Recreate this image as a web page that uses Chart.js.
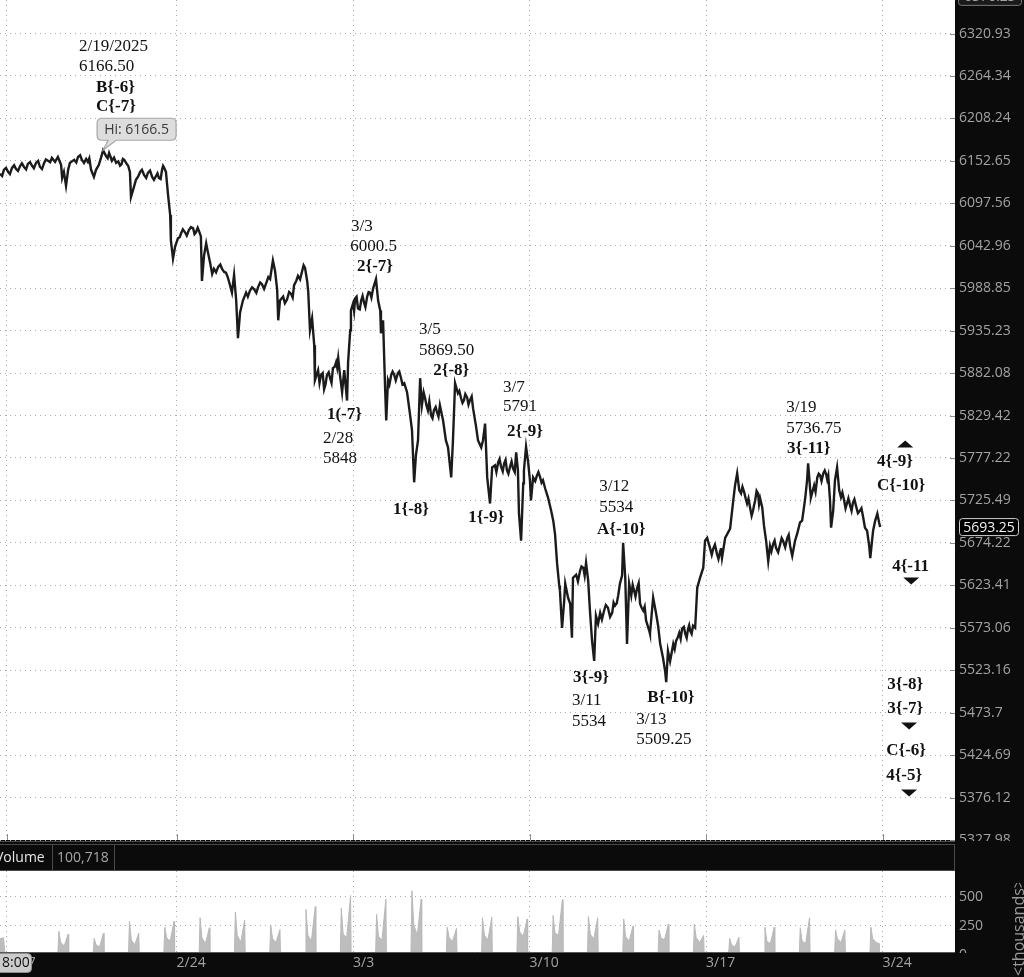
<!DOCTYPE html>
<html><head><meta charset="utf-8">
<script src="https://cdn.jsdelivr.net/npm/chart.js@4.4.1/dist/chart.umd.min.js"></script>
<style>
html,body{margin:0;padding:0;background:#0b0b0b;width:1024px;height:977px;overflow:hidden}
#p{position:absolute;left:0;top:0}
#v{position:absolute;left:0;top:841px}
</style></head><body>
<canvas id="p" width="1024" height="841"></canvas>
<canvas id="v" width="1024" height="136"></canvas>
<script>
// ---- data: x = trading-day index (0 = 2/17 session), price in index points ----
// main swing path
const priceTimes = [0.00,0.11,0.23,0.34,0.45,0.57,0.68,0.79,0.91,1.02,1.13,1.25,1.36,1.47,1.56,1.64,1.73,1.76,1.81,1.87,1.93,1.98,2.10,2.21,2.32,2.44,2.49,2.58,2.66,2.72,2.80,2.86,2.92,3.00,3.09,3.17,3.29,3.40,3.48,3.57,3.63,3.68,3.71,3.77,3.85,3.97,4.08,4.19,4.31,4.42,4.50,4.59,4.65,4.70,4.76,4.82,4.84,4.90,4.96,5.04,5.13,5.24,5.35,5.47,5.55,5.64,5.69,5.72,5.78,5.84,5.89,5.95,6.01,6.06,6.18,6.29,6.40,6.49,6.57,6.63,6.69,6.74,6.80,6.88,6.97,7.08,7.20,7.31,7.42,7.54,7.65,7.73,7.79,7.85,7.88,7.93,8.02,8.13,8.24,8.33,8.44,8.56,8.64,8.70,8.73,8.78,8.84,8.90,8.92,9.01,9.09,9.18,9.26,9.35,9.43,9.52,9.58,9.63,9.69,9.75,9.83,9.86,9.92,9.94,10.00,10.06,10.14,10.23,10.31,10.40,10.48,10.57,10.65,10.71,10.77,10.79,10.85,10.91,10.94,10.99,11.08,11.16,11.27,11.36,11.45,11.53,11.61,11.67,11.73,11.78,11.84,11.90,11.95,12.04,12.12,12.21,12.29,12.38,12.46,12.55,12.63,12.69,12.78,12.83,12.89,12.97,13.06,13.14,13.23,13.31,13.40,13.48,13.54,13.63,13.68,13.74,13.80,13.88,13.94,14.02,14.11,14.19,14.28,14.36,14.45,14.53,14.62,14.67,14.70,14.76,14.82,14.84,14.90,14.96,15.01,15.04,15.10,15.21,15.30,15.38,15.44,15.52,15.61,15.67,15.72,15.78,15.84,15.86,15.92,15.98,16.01,16.09,16.15,16.20,16.23,16.32,16.43,16.52,16.60,16.66,16.71,16.77,16.83,16.88,16.94,17.00,17.11,17.22,17.34,17.42,17.51,17.56,17.62,17.65,17.71,17.76,17.82,17.88,17.96,18.05,18.13,18.22,18.30,18.39,18.41,18.50,18.58,18.64,18.70,18.78,18.84,18.87,18.92,18.98,19.07,19.15,19.24,19.32,19.41,19.49,19.55,19.63,19.69,19.75,19.83,19.92,19.97,20.03,20.11,20.20,20.31,20.40,20.45,20.54,20.62,20.68,20.77,20.82,20.88,20.94,20.99,21.08,21.16,21.25,21.33,21.39,21.47,21.53,21.59,21.64,21.70,21.76,21.81,21.90,21.98,22.10,22.18,22.30,22.38,22.44,22.52,22.58,22.66,22.72,22.78,22.81,22.86,22.89,22.95,22.97,23.06,23.15,23.23,23.32,23.40,23.46,23.51,23.54,23.60,23.65,23.71,23.77,23.82,23.91,23.99,24.08,24.16,24.25,24.36,24.45,24.50,24.56,24.62,24.65,24.70,24.73,24.79,24.85,24.90,24.93];
const prices = [6135.75,6141,6138.25,6143.5,6142.25,6146,6144.75,6148.75,6146.25,6150,6145,6150,6152.75,6156.5,6151.25,6157.75,6147.5,6130.5,6138.25,6120.25,6141,6150,6154,6157.75,6154,6155.25,6151.25,6141,6131.75,6141,6147.5,6156.5,6166.5,6159.25,6163,6152.75,6150,6146.25,6155.25,6150,6146.25,6138.25,6105.75,6115,6128,6138.25,6134.5,6137,6131.75,6133,6130.5,6141,6143.5,6138.25,6108.5,6082.5,6050,6026.5,6042,6052.5,6059,6060.25,6063,6065.5,6060.25,6061.5,6055,5998,6030.5,6046,6034.5,6021.5,6007,6013.5,6016,6013.5,6008.5,5996.75,5983.25,6005.75,5973.25,5925.75,5958.25,5973.25,5983.25,5985.75,5987.5,5990.25,5994,5995.25,6000.5,6024,6011,5987.5,5948.25,5973.25,5978.25,5974.5,5982,5992.75,6004.5,6011,6014.75,5998,5985,5935.75,5950.75,5917,5873.25,5885.75,5879.5,5862,5879.5,5875.75,5888.25,5895.75,5900.75,5879.5,5858.25,5885.75,5848,5895.75,5935.75,5960.75,5969.5,5975.75,5963.25,5973.25,5970.75,5978.25,5983.25,5988.75,6000.5,5973.25,5960.75,5932,5948.25,5860.75,5823.25,5873.25,5879.5,5880.75,5882,5875.75,5869.5,5858.25,5832,5811,5747.5,5780.5,5798.75,5875.75,5842,5850.75,5835.75,5829.5,5835.75,5833.25,5842,5823.25,5798.75,5790.25,5753.5,5798.75,5869.5,5857,5850.75,5848.25,5852,5848.25,5838.25,5817,5798.75,5790.25,5798.75,5819.5,5753.5,5721.75,5765.75,5768.25,5771.75,5767,5770.75,5762,5767,5764.5,5784,5762,5709.5,5676.75,5746.25,5762,5791,5771.75,5750,5725.5,5753.5,5756,5753.5,5750,5740.25,5729.25,5713.25,5701,5685.25,5649.25,5623,5617,5573,5605,5625.5,5608.75,5601.5,5561.25,5632.5,5636,5640.75,5644.5,5650.25,5629,5593.25,5557.5,5534,5587.25,5577.75,5590.75,5593.25,5596.75,5590.75,5599.25,5611.25,5625.5,5635,5674.25,5632.5,5554,5625.5,5611.25,5617.25,5620.75,5601.5,5593.25,5581.5,5569.5,5566,5608.75,5590.75,5575.5,5554,5537.5,5521.75,5509.25,5545.75,5533.75,5554,5557.5,5567,5572,5566,5572,5569.5,5575.5,5573,5620.75,5632.5,5644.5,5676.75,5680.25,5668.25,5667,5660.75,5664.5,5656,5680.25,5686.5,5691.25,5725.5,5743.75,5758.5,5737.75,5734,5735.25,5721.75,5715.75,5713.25,5725.5,5734,5728,5717,5695,5676.75,5652.25,5670.5,5673,5668.25,5673,5676.75,5680.25,5670.5,5658.5,5676.75,5685.25,5698.75,5701,5719.5,5729.25,5750,5770.75,5737.75,5729.25,5743.75,5753.5,5756,5758.5,5757.25,5756,5725.5,5692.5,5713.25,5750,5765.75,5737.75,5729.25,5725.5,5721.75,5719.25,5723,5718.25,5713.25,5704.75,5692.5,5688.75,5670.5,5656,5676.75,5688.75,5701,5709.5,5698.75,5693.25];
// intraday wiggles between the swing points
const wiggleTimes = [0.06,0.17,0.28,0.40,0.51,0.62,0.74,0.85,0.96,1.08,1.19,1.30,1.42,2.16,2.27,2.38,2.53,3.05,3.13,3.23,3.35,3.44,3.52,3.91,4.02,4.14,4.25,4.36,4.46,4.55,4.62,5.09,5.18,5.29,5.41,5.51,5.60,6.12,6.24,6.35,6.45,7.02,7.14,7.26,7.37,7.48,7.60,8.07,8.19,8.29,8.39,8.50,8.60,9.05,9.14,9.22,9.31,9.39,9.48,9.55,10.03,10.10,10.19,10.27,10.35,10.44,10.52,11.03,11.12,11.21,11.31,11.40,12.00,12.08,12.16,12.25,12.34,12.42,13.01,13.10,13.18,13.27,13.36,14.06,14.15,14.24,14.32,14.40,14.49,14.58,15.16,15.25,15.34,16.37,16.47,16.56,17.05,17.16,17.28,17.38,17.47,17.92,18.00,18.09,18.17,18.26,19.11,19.20,19.28,19.37,19.45,19.52,19.59,20.07,20.16,20.25,20.35,20.42,21.03,21.12,21.20,21.29,21.36,21.43,21.50,21.85,21.94,22.04,22.14,22.24,22.34,23.10,23.19,23.27,23.36,23.43,23.86,23.95,24.03,24.12,24.20,24.30,24.40];
const wigglePrices = [6133,6143.5,6135.5,6147,6139.5,6149.5,6141.5,6151,6143,6152.5,6142,6154.5,6151,6150.5,6160,6150,6156,6156,6158,6157,6152,6148,6154,6132,6141,6130.5,6140,6128,6136.5,6129,6146,6054,6064,6056,6067,6058,6066,6009,6019,6009.5,6003,5978,5990,5983,5996,5988,6003,5970,5984,5977,5998,6000,6018,5870,5882,5868,5883,5870,5890,5889,5960,5978,5962,5979,5965,5984,5977,5868,5884,5873,5884,5868,5858,5842,5847,5826,5840,5828,5860,5845,5856,5843,5853,5760,5776,5761,5775,5758,5773,5760,5749,5760,5747,5628,5646,5635,5583,5600,5586,5603,5602,5624,5610,5626,5597,5598,5548,5562,5560,5574,5561,5576,5566,5674,5660,5672,5655,5668,5742,5728,5728,5707,5720,5737,5721,5664,5677,5663,5680,5669,5684,5736,5758,5749,5762,5751,5735,5716,5728,5713,5727,5710,5716];

const priceTicks = [5327.98,5376.12,5424.69,5473.7,5523.16,5573.06,5623.41,5674.22,5725.49,5777.22,5829.42,5882.08,5935.23,5988.85,6042.96,6097.56,6152.65,6208.24,6264.34,6320.93];
const priceAxisMin = 5327.98, priceAxisMax = 6366, axisTopLabel = '6370.23', axisTopValue = 6370.23;
const dayAxisMax = 27.05;
const weekTicks = [0.19,5,10,15,20,25];
const weekLabels = ['2/17','2/24','3/3','3/10','3/17','3/24'];

const volTimes = [0,0.1,0.14,
1.64,1.667,1.72,1.82,1.93,1.945, 2.64,2.667,2.72,2.82,2.93,2.945, 3.64,3.667,3.72,3.82,3.93,3.945, 4.64,4.667,4.72,4.82,4.93,4.945,
5.64,5.667,5.72,5.82,5.93,5.945, 6.64,6.667,6.72,6.82,6.93,6.945, 7.64,7.667,7.72,7.82,7.93,7.945, 8.64,8.667,8.72,8.82,8.93,8.945, 9.64,9.667,9.72,9.82,9.93,9.945,
10.64,10.667,10.72,10.82,10.93,10.945, 11.64,11.667,11.72,11.82,11.93,11.945, 12.64,12.667,12.72,12.82,12.93,12.945, 13.64,13.667,13.72,13.82,13.93,13.945, 14.64,14.667,14.72,14.82,14.93,14.945,
15.64,15.667,15.72,15.82,15.93,15.945, 16.64,16.667,16.72,16.82,16.93,16.945, 17.64,17.667,17.72,17.82,17.93,17.945, 18.64,18.667,18.72,18.82,18.93,18.945, 19.64,19.667,19.72,19.82,19.93,19.945,
20.64,20.667,20.72,20.82,20.93,20.945, 21.64,21.667,21.72,21.82,21.93,21.945, 22.64,22.667,22.72,22.82,22.93,22.945, 23.64,23.667,23.72,23.82,23.93,23.945, 24.64,24.667,24.72,24.82,24.93];
const volumes = [140,150,8,
12,205,110,80,180,8, 12,145,90,70,190,8, 12,290,130,90,190,8, 12,240,150,120,290,8,
12,320,150,100,235,8, 12,370,170,110,300,8, 12,260,140,110,220,8, 12,390,170,120,415,8, 12,400,180,150,510,8,
12,350,160,130,480,8, 12,550,260,170,480,8, 12,240,150,120,230,8, 12,320,170,130,325,8, 12,330,200,160,310,8,
12,340,190,170,475,8, 12,330,180,140,320,8, 12,310,160,120,250,8, 12,215,150,130,265,8, 12,265,150,110,170,8,
12,145,90,70,155,8, 12,240,120,100,240,8, 12,235,120,100,320,8, 12,215,140,110,215,8, 12,240,140,110,95];
const volTicks = [0,250,500];
const volAxisMin = 28, volAxisMax = 719;

const annText = ['2/19/2025','6166.50','B{-6}','C{-7}','3/3','6000.5','2{-7}','1(-7}','2/28','5848','3/5','5869.50','2{-8}','3/7','5791','2{-9}','1{-8}','1{-9}','3/12','5534','A{-10}','3{-9}','3/11','5534','B{-10}','3/13','5509.25','3/19','5736.75','3{-11}','4{-9}','C{-10}','4{-11','3{-8}','3{-7}','C{-6}','4{-5}'];
const annBold = [0,0,1,1,0,0,1,1,0,0,0,0,1,0,0,1,1,1,0,0,1,1,0,0,1,0,0,0,0,1,1,1,1,1,1,1,1];
const annDay = [2.24,2.24,2.72,2.72,9.94,9.92,10.11,9.26,9.15,9.15,11.87,11.87,12.27,14.25,14.25,14.36,11.13,13.26,16.97,16.97,16.91,16.23,16.20,16.20,18.33,18.02,18.02,22.27,22.27,22.29,24.84,24.84,25.27,25.13,25.13,25.10,25.10];
const annPrice = [6304.0,6277.4,6249.5,6224.4,6068.2,6042.2,6016.2,5830.8,5801.1,5776.7,5937.1,5910.8,5885.8,5864.6,5840.8,5809.7,5714.5,5704.7,5742.6,5717.0,5690.1,5514.7,5487.4,5463.6,5491.0,5466.0,5442.2,5839.6,5813.3,5788.9,5773.1,5743.8,5645.7,5506.4,5477.9,5429.5,5401.3];
const arrowDay = [25.64,25.81,25.75,25.75];
const arrowPrice = [5798.7,5632.6,5462.4,5385.3];
const arrowDir = ['up','down','down','down'];

if (priceTimes.length !== prices.length) throw new Error('price length mismatch ' + priceTimes.length + ' vs ' + prices.length);
if (wiggleTimes.length !== wigglePrices.length) throw new Error('wiggle length mismatch ' + wiggleTimes.length + ' vs ' + wigglePrices.length);
if (volTimes.length !== volumes.length) throw new Error('vol length mismatch ' + volTimes.length + ' vs ' + volumes.length);

const pricePoints = priceTimes.map((t, i) => ({x: t, y: prices[i]}))
  .concat(wiggleTimes.map((t, i) => ({x: t, y: wigglePrices[i]})))
  .sort((a, b) => a.x - b.x);

const BG = '#0b0b0b';
const AXIS_TXT = '#a3a3a3';
const GRID = '#a9a9a9';
const hiIdx = prices.indexOf(Math.max(...prices));

function rr(ctx, x, y, w, h, r) {
  ctx.beginPath();
  ctx.moveTo(x + r, y); ctx.lineTo(x + w - r, y); ctx.quadraticCurveTo(x + w, y, x + w, y + r);
  ctx.lineTo(x + w, y + h - r); ctx.quadraticCurveTo(x + w, y + h, x + w - r, y + h);
  ctx.lineTo(x + r, y + h); ctx.quadraticCurveTo(x, y + h, x, y + h - r);
  ctx.lineTo(x, y + r); ctx.quadraticCurveTo(x, y, x + r, y); ctx.closePath();
}

const priceDeco = {
  id: 'priceDeco',
  beforeDraw(c) {
    const {ctx, chartArea: a, width, height} = c;
    ctx.save();
    ctx.fillStyle = BG; ctx.fillRect(0, 0, width, height);
    ctx.fillStyle = '#ffffff'; ctx.fillRect(a.left, a.top, a.right - a.left, a.bottom - a.top);
    ctx.restore();
  },
  afterDraw(c) {
    const {ctx, chartArea: a} = c;
    const xs = c.scales.x, ys = c.scales.y;
    ctx.save();
    ctx.strokeStyle = '#8c8c8c'; ctx.lineWidth = 1;
    priceTicks.forEach(v => { const y = Math.round(ys.getPixelForValue(v)) + 0.5; ctx.beginPath(); ctx.moveTo(a.right - 5, y); ctx.lineTo(a.right, y); ctx.stroke(); });
    weekTicks.forEach(v => { const x = Math.round(xs.getPixelForValue(v)) + 0.5; ctx.beginPath(); ctx.moveTo(x, a.bottom - 6); ctx.lineTo(x, a.bottom); ctx.stroke(); });
    ctx.fillStyle = '#111'; ctx.textBaseline = 'middle'; ctx.textAlign = 'left';
    annText.forEach((t, i) => {
      ctx.font = (annBold[i] ? 'bold ' : '') + '17px "Liberation Serif"';
      ctx.fillText(t, xs.getPixelForValue(annDay[i]), ys.getPixelForValue(annPrice[i]));
    });
    arrowDay.forEach((d, i) => {
      const x = xs.getPixelForValue(d), y = ys.getPixelForValue(arrowPrice[i]);
      ctx.beginPath();
      if (arrowDir[i] === 'up') { ctx.moveTo(x, y); ctx.lineTo(x - 8, y + 7); ctx.lineTo(x + 8, y + 7); }
      else { ctx.moveTo(x - 8, y); ctx.lineTo(x + 8, y); ctx.lineTo(x, y + 7); }
      ctx.closePath(); ctx.fill();
    });
    const hx = xs.getPixelForValue(priceTimes[hiIdx]), hy = ys.getPixelForValue(prices[hiIdx]);
    const bx = hx - 6, by = hy - 32, bw = 79, bh = 22, r = 5;
    ctx.beginPath();
    ctx.moveTo(bx + r, by); ctx.lineTo(bx + bw - r, by); ctx.quadraticCurveTo(bx + bw, by, bx + bw, by + r);
    ctx.lineTo(bx + bw, by + bh - r); ctx.quadraticCurveTo(bx + bw, by + bh, bx + bw - r, by + bh);
    ctx.lineTo(hx + 13, by + bh); ctx.lineTo(hx, hy); ctx.lineTo(hx + 5, by + bh);
    ctx.lineTo(bx + r, by + bh); ctx.quadraticCurveTo(bx, by + bh, bx, by + bh - r);
    ctx.lineTo(bx, by + r); ctx.quadraticCurveTo(bx, by, bx + r, by); ctx.closePath();
    ctx.fillStyle = '#dddddd'; ctx.fill(); ctx.strokeStyle = '#a6a6a6'; ctx.lineWidth = 1.2; ctx.stroke();
    ctx.fillStyle = '#3a3a3a'; ctx.font = '14px "Open Sans"'; ctx.textAlign = 'center';
    ctx.fillText('Hi: ' + prices[hiIdx], bx + bw / 2, by + bh / 2 + 1);
    const last = prices[prices.length - 1];
    const ly = ys.getPixelForValue(last);
    rr(ctx, a.right + 4.5, ly - 8.5, 59, 17, 3);
    ctx.fillStyle = '#000'; ctx.fill(); ctx.strokeStyle = '#d0d0d0'; ctx.lineWidth = 1; ctx.stroke();
    ctx.fillStyle = '#f2f2f2'; ctx.fillText(last.toFixed(2), a.right + 34, ly + 1);
    const ty = ys.getPixelForValue(axisTopValue);
    rr(ctx, a.right + 3.5, ty - 9.5, 63, 18, 3);
    ctx.fillStyle = '#1a1a1a'; ctx.fill(); ctx.strokeStyle = '#7a7a7a'; ctx.stroke();
    ctx.fillStyle = AXIS_TXT; ctx.fillText(axisTopLabel, a.right + 35, ty);
    ctx.restore();
  }
};

const volDeco = {
  id: 'volDeco',
  beforeDraw(c) {
    const {ctx, chartArea: a, width, height} = c;
    ctx.save();
    ctx.fillStyle = BG; ctx.fillRect(0, 0, width, height);
    ctx.fillStyle = '#ffffff'; ctx.fillRect(a.left, a.top, a.right - a.left, a.bottom - a.top);
    ctx.strokeStyle = '#4a4a4a'; ctx.lineWidth = 1;
    ctx.beginPath(); ctx.moveTo(0, 0.5); ctx.lineTo(a.right, 0.5); ctx.stroke();
    ctx.strokeRect(-1.5, 3.5, a.right + 1, a.top - 4);
    ctx.beginPath(); ctx.moveTo(52.5, 3.5); ctx.lineTo(52.5, a.top - 0.5); ctx.moveTo(114.5, 3.5); ctx.lineTo(114.5, a.top - 0.5); ctx.stroke();
    ctx.font = '14px "Open Sans"'; ctx.textBaseline = 'middle'; ctx.textAlign = 'left';
    ctx.fillStyle = '#e6e6e6'; ctx.fillText('Volume', -5, 17);
    ctx.fillStyle = '#a6a6a6'; ctx.fillText('100,718', 57, 17);
    ctx.restore();
  },
  afterDraw(c) {
    const {ctx, chartArea: a, width, height} = c;
    ctx.save();
    ctx.fillStyle = BG; ctx.fillRect(a.right + 1, a.bottom + 1, width - a.right, height - a.bottom);
    ctx.strokeStyle = '#5a5a5a'; ctx.beginPath(); ctx.moveTo(0, a.bottom + 0.5); ctx.lineTo(a.right, a.bottom + 0.5); ctx.stroke();
    rr(ctx, -3.5, a.bottom + 1.5, 35, 19, 4);
    ctx.fillStyle = '#cbcbcb'; ctx.fill(); ctx.strokeStyle = '#8e8e8e'; ctx.stroke();
    ctx.fillStyle = '#111'; ctx.font = '14px "Open Sans"'; ctx.textBaseline = 'middle'; ctx.textAlign = 'left';
    ctx.fillText('8:00', 2, a.bottom + 11.5);
    ctx.beginPath(); ctx.rect(a.right + 40, a.top + 12, 40, height); ctx.clip();
    ctx.translate(1019, height); ctx.rotate(-Math.PI / 2);
    ctx.fillStyle = '#9a9a9a'; ctx.font = '16px "Open Sans"'; ctx.textAlign = 'left';
    ctx.fillText('<thousands>', 1, 0);
    ctx.restore();
  }
};

function fixAxis(w, h) {
  return s => {
    if (w !== null) s.width = w;
    if (h !== null) s.height = h;
    s.paddingTop = 0; s.paddingBottom = 0; s.paddingLeft = 0; s.paddingRight = 0;
  };
}
const gridOpts = {color: GRID, lineWidth: 1, drawTicks: false};
const volGridOpts = {color: ctx => (ctx.tick && ctx.tick.value < volAxisMin) ? 'rgba(0,0,0,0)' : GRID, lineWidth: 1, drawTicks: false};
const borderOpts = {display: false, dash: [1, 4]};

new Chart(document.getElementById('p'), {
  type: 'line',
  data: {datasets: [{
    data: pricePoints,
    borderColor: '#1b1b1b', borderWidth: 2.4, pointRadius: 0, tension: 0, fill: false
  }]},
  options: {
    responsive: false, animation: false, events: [],
    layout: {padding: {left: 0, right: 0, top: 0, bottom: 1}},
    plugins: {legend: {display: false}, tooltip: {enabled: false}},
    scales: {
      x: {type: 'linear', min: 0, max: dayAxisMax,
          afterBuildTicks: s => { s.ticks = weekTicks.map(v => ({value: v})); },
          ticks: {display: false}, grid: gridOpts, border: borderOpts,
          afterFit: fixAxis(null, 0)},
      y: {type: 'logarithmic', position: 'right', min: priceAxisMin, max: priceAxisMax,
          afterBuildTicks: s => { s.ticks = priceTicks.map(v => ({value: v})); },
          ticks: {color: AXIS_TXT, font: {family: 'Open Sans', size: 14}, padding: 4, callback: v => String(v)},
          grid: gridOpts, border: borderOpts,
          afterFit: fixAxis(69, null)}
    }
  },
  plugins: [priceDeco]
});

new Chart(document.getElementById('v'), {
  type: 'line',
  data: {datasets: [{
    data: volTimes.map((t, i) => ({x: t, y: volumes[i]})),
    borderColor: '#b9b9b9', borderWidth: 1, backgroundColor: '#bdbdbd', pointRadius: 0, tension: 0, fill: 'origin'
  }]},
  options: {
    responsive: false, animation: false, events: [],
    layout: {padding: {left: 0, right: 0, top: 30, bottom: 0}},
    plugins: {legend: {display: false}, tooltip: {enabled: false}},
    scales: {
      x: {type: 'linear', min: 0, max: dayAxisMax,
          afterBuildTicks: s => { s.ticks = weekTicks.map(v => ({value: v})); },
          ticks: {color: AXIS_TXT, font: {family: 'Open Sans', size: 14}, padding: 3, align: 'start', maxRotation: 0,
                  callback: (v, i) => weekLabels[i]},
          grid: gridOpts, border: borderOpts,
          afterFit: fixAxis(null, 25)},
      y: {type: 'linear', position: 'right', min: volAxisMin, max: volAxisMax,
          afterBuildTicks: s => { s.ticks = volTicks.map(v => ({value: v})); },
          ticks: {color: AXIS_TXT, font: {family: 'Open Sans', size: 14}, padding: 4, callback: v => String(v)},
          grid: volGridOpts, border: borderOpts,
          afterFit: fixAxis(69, null)}
    }
  },
  plugins: [volDeco]
});
</script></body></html>
